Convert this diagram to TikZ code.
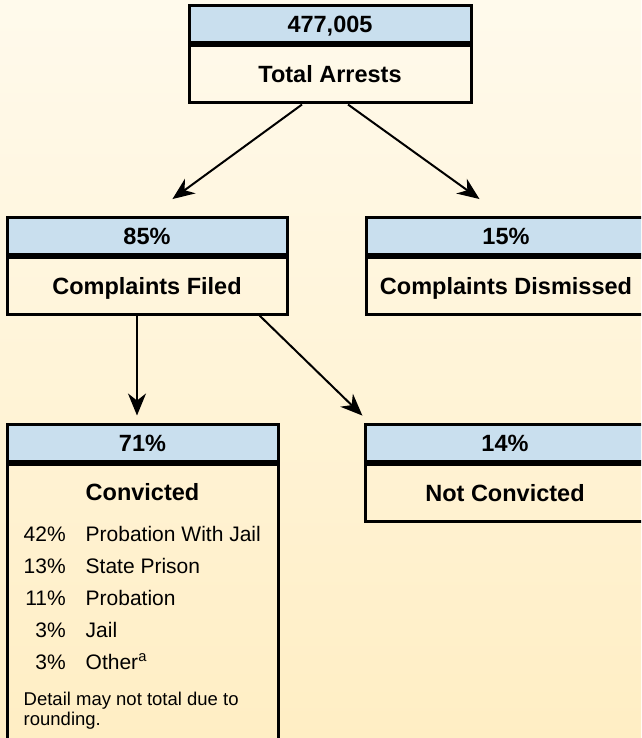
\documentclass[tikz,border=0pt]{standalone}
\usepackage{fontspec}
\setmainfont{Liberation Sans}
\usetikzlibrary{arrows.meta, positioning}
\definecolor{hdblue}{RGB}{201,223,238}
\definecolor{bgtop}{RGB}{255,250,236}
\definecolor{bgbottom}{RGB}{255,238,196}
\newcommand{\boxfont}{\bfseries\fontsize{23.5}{28}\selectfont}
\newcommand{\listfont}{\fontsize{21}{32}\selectfont}
\newcommand{\notefont}{\fontsize{18.5}{20.5}\selectfont}
\tikzstyle{header} = [rectangle, draw=black, line width=3pt, fill=hdblue, minimum height=37pt, inner sep=0pt, text height=17pt, text depth=0pt, font=\boxfont]
\tikzstyle{body} = [rectangle, draw=black, line width=3pt, minimum height=57pt, inner sep=0pt, text height=17pt, text depth=0pt, font=\boxfont]
\tikzstyle{arrow} = [line width=2pt, -{Stealth[length=22pt, width=18pt, inset=7pt]}]

\begin{document}
\begin{tikzpicture}[x=1pt, y=-1pt, node distance=0pt]
\useasboundingbox (0,0) rectangle (641,738);
\clip (0,0) rectangle (641,738);
\shade [top color=bgtop, bottom color=bgbottom] (0,0) rectangle (641,738);

% arrests
\node (hdtotal) [header, minimum width=282pt] at (330,24.5) {477,005};
\node (bdtotal) [body, minimum width=282pt, below=of hdtotal] {Total Arrests};

% complaints
\node (hdfiled) [header, minimum width=280pt] at (147,235.5) {85\%};
\node (bdfiled) [body, minimum width=280pt, below=of hdfiled] {Complaints Filed};

\node (hddismiss) [header, minimum width=280pt] at (506,235.5) {15\%};
\node (bddismiss) [body, minimum width=280pt, below=of hddismiss] {Complaints Dismissed};

\draw [arrow, shorten >=27.9pt] ([xshift=-28pt]bdtotal.south) -- ([xshift=2.9pt]hdfiled.north);
\draw [arrow, shorten >=28.2pt] ([xshift=18pt]bdtotal.south) -- ([xshift=-3.6pt]hddismiss.north);

% outcomes
\node (hdconv) [header, minimum width=271pt] at (142.5,442.5) {71\%};
\node (bdconv) [body, minimum width=271pt, minimum height=299pt, below=of hdconv] {};
\node (ttconv) [font=\boxfont, inner sep=0pt, text height=17pt, text depth=0pt] at ([yshift=-29pt]bdconv.north) {Convicted};
\node (lsconv) [anchor=north west, inner sep=0pt, font=\listfont] at ([xshift=18pt, yshift=-56pt]bdconv.north west) {%
\begin{tabular}{@{}r@{\hspace{20pt}}l@{}}
42\% & Probation With Jail\\
13\% & State Prison\\
11\% & Probation\\
3\% & Jail\\
3\% & Other\textsuperscript{a}
\end{tabular}};
\node (ntconv) [anchor=north west, inner sep=0pt, align=left, font=\notefont] at ([xshift=18pt, yshift=-229pt]bdconv.north west) {Detail may not total due to\\rounding.};

\node (hdnotconv) [header, minimum width=280pt] at (505,442.5) {14\%};
\node (bdnotconv) [body, minimum width=280pt, below=of hdnotconv] {Not Convicted};

\draw [arrow, shorten >=7pt] ([xshift=-10pt]bdfiled.south) -- ([xshift=-5.5pt]hdconv.north);
\draw [arrow, shorten >=9.9pt] ([xshift=-29pt]bdfiled.south east) -- ([xshift=6pt]hdnotconv.north west);

\end{tikzpicture}
\end{document}
